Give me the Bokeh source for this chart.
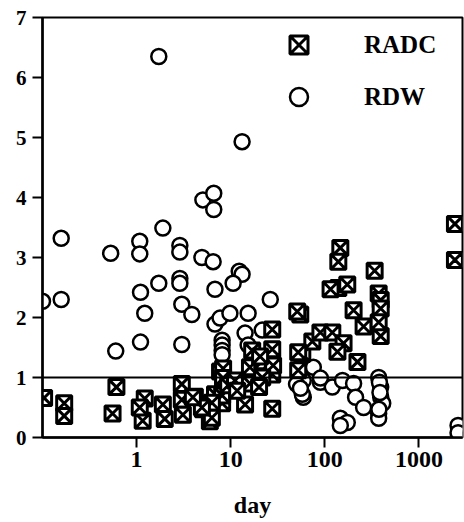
from bokeh.plotting import figure
from bokeh.models import FixedTicker, NumeralTickFormatter, Span, Legend, LegendItem
from bokeh.embed import file_html
from bokeh.resources import INLINE

# ---- data ----
rdw_day = [0.10, 0.158, 0.158, 0.53, 0.60, 1.08, 1.08, 1.10, 1.22, 1.10,
           1.72, 1.72, 1.90, 2.88, 2.88, 2.88, 2.88, 3.02, 3.86, 3.02,
           4.94, 5.06, 6.6, 6.6, 6.5, 6.8, 6.8, 7.7, 9.8, 8.1,
           8.1, 8.1, 8.1, 13.2, 12.3, 13.2, 10.6, 15.3, 14.2, 15.3,
           21.6, 26.3, 75.4, 59.0, 59.0, 89.7, 120, 154, 202, 212,
           258, 373, 392, 392, 412, 373, 373, 146, 173, 146,
           2600, 2600, 50.0, 57.6, 89.7, 55.0, 380, 385, 375]
rdw_val = [2.27, 2.30, 3.32, 3.07, 1.44, 3.27, 3.06, 2.42, 2.07, 1.59,
           6.35, 2.57, 3.49, 3.20, 3.09, 2.65, 2.57, 2.22, 2.05, 1.55,
           3.00, 3.96, 4.07, 3.80, 2.93, 2.47, 1.89, 1.99, 2.07, 1.62,
           1.54, 1.45, 1.38, 4.93, 2.77, 2.72, 2.57, 2.07, 1.74, 1.54,
           1.79, 2.30, 1.17, 0.95, 0.67, 0.92, 0.84, 0.95, 0.90, 0.67,
           0.50, 1.00, 0.84, 0.67, 0.57, 0.40, 0.32, 0.32, 0.25, 0.20,
           0.20, 0.08, 0.89, 0.72, 0.99, 0.82, 0.92, 0.75, 0.47]

radc_day = [0.104, 0.17, 0.17, 0.61, 0.555, 1.22, 1.16, 1.08, 1.90, 1.99,
            3.02, 3.02, 3.10, 4.16, 5.06, 6.0, 6.8, 7.7, 8.3, 8.1,
            9.8, 8.3, 8.3, 8.1, 9.4, 11.1, 6.3, 6.3, 4.94, 3.96,
            14.2, 16.9, 16.0, 16.0, 21.6, 27.6, 27.6, 27.6, 28.2, 27.6,
            54.8, 50.9, 57.6, 73.6, 89.7, 120, 158, 222, 136, 146,
            139, 338, 139, 173, 373, 392, 392, 202, 258, 392,
            373, 2410, 2410, 52.1, 52.1, 21.6, 20.5, 11.7, 20.0, 115]
radc_val = [0.66, 0.57, 0.36, 0.84, 0.40, 0.65, 0.28, 0.50, 0.55, 0.31,
            0.89, 0.63, 0.38, 0.68, 0.47, 0.27, 0.72, 1.10, 0.94, 0.57,
            0.82, 1.15, 0.99, 0.70, 0.87, 0.95, 0.58, 0.33, 0.50, 0.67,
            0.55, 1.45, 1.17, 0.90, 1.27, 1.80, 1.47, 1.05, 1.20, 0.48,
            2.05, 2.10, 1.39, 1.60, 1.75, 1.75, 1.57, 1.26, 1.43, 3.16,
            2.93, 2.78, 2.49, 2.55, 2.40, 2.29, 2.15, 2.12, 1.85, 1.69,
            1.92, 3.56, 2.96, 1.42, 1.12, 1.00, 1.35, 0.78, 0.84, 2.47]

x_ticks = [1, 10, 100, 1000]
y_ticks = [0, 1, 2, 3, 4, 5, 6, 7]
reference_level = 1
series_names = ["RADC", "RDW"]
x_title = "day"

FONT = "Liberation Serif"

p = figure(width=464, height=522, x_axis_type="log",
           x_range=(0.1, 2900), y_range=(0, 7),
           output_backend="svg", toolbar_location=None,
           min_border_left=42, min_border_right=2,
           min_border_top=17, min_border_bottom=85)

p.xgrid.visible = False
p.ygrid.visible = False
p.outline_line_color = "black"
p.outline_line_width = 2
p.background_fill_color = "white"
p.border_fill_color = "white"

span = Span(location=reference_level, dimension="width",
            line_color="black", line_width=2)
p.add_layout(span)

r_rdw = p.scatter(rdw_day, rdw_val, marker="circle", size=15,
                  line_color="black", line_width=2.5, fill_color="white")
r_radc = p.scatter(radc_day, radc_val, marker="square_x", size=15,
                   line_color="black", line_width=3, fill_color="white")

legend = Legend(items=[LegendItem(label=series_names[0], renderers=[r_radc]),
                       LegendItem(label=series_names[1], renderers=[r_rdw])],
                location=(234, 318), padding=0, margin=0,
                glyph_width=45, glyph_height=45, spacing=7,
                label_standoff=43, border_line_color=None,
                background_fill_alpha=0,
                label_text_font=FONT, label_text_font_style="bold",
                label_text_font_size="25px", label_text_color="black")
p.add_layout(legend)

# x axis
xa = p.xaxis[0]
xa.ticker = FixedTicker(ticks=x_ticks, minor_ticks=[])
xa.formatter = NumeralTickFormatter(format="0")
xa.axis_line_width = 2.5
xa.axis_line_color = "black"
xa.major_tick_line_width = 2
xa.major_tick_line_color = "black"
xa.major_tick_in = 0
xa.major_tick_out = 10
xa.minor_tick_line_color = None
xa.major_label_text_font = FONT
xa.major_label_text_font_style = "bold"
xa.major_label_text_font_size = "24px"
xa.major_label_text_color = "black"
xa.major_label_standoff = 4
xa.axis_label = x_title
xa.axis_label_text_font = FONT
xa.axis_label_text_font_style = "bold"
xa.axis_label_text_font_size = "24px"
xa.axis_label_text_color = "black"
xa.axis_label_standoff = 22

# y axis
ya = p.yaxis[0]
ya.ticker = FixedTicker(ticks=y_ticks, minor_ticks=[])
ya.axis_line_width = 2.5
ya.axis_line_color = "black"
ya.major_tick_line_width = 2
ya.major_tick_line_color = "black"
ya.major_tick_in = 0
ya.major_tick_out = 10
ya.minor_tick_line_color = None
ya.major_label_text_font = FONT
ya.major_label_text_font_style = "bold"
ya.major_label_text_font_size = "21px"
ya.major_label_text_color = "black"
ya.major_label_standoff = 6

open("out.html", "w").write(file_html(p, INLINE))
